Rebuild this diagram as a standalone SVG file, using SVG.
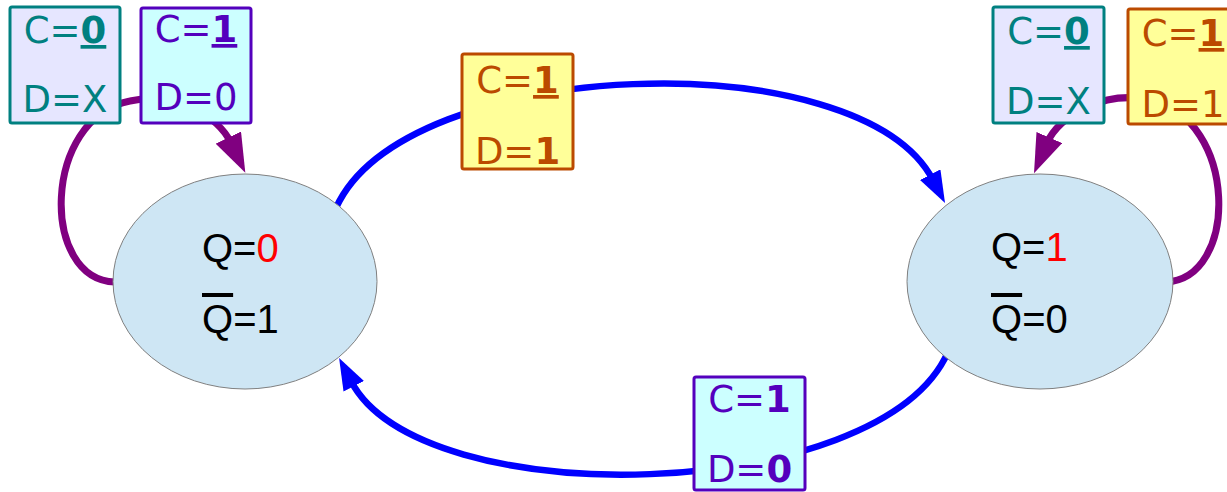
<svg xmlns="http://www.w3.org/2000/svg" width="1227" height="492" viewBox="0 0 1227 492">
<style>
.state{fill:#cee6f4;stroke:#808080;stroke-width:1}
.st{font-family:"Liberation Sans",Arial,sans-serif;font-size:40px;fill:#000}
.red{fill:#ff0000}
.ov{text-decoration:overline}
.lbl{font-family:"DejaVu Sans",sans-serif;font-size:37px;text-anchor:middle}
.b{font-weight:bold}
.u{text-decoration:underline}
.teal rect{fill:#e6e6ff;stroke:#008080;stroke-width:3}
.teal text{fill:#008080}
.purp rect{fill:#ccffff;stroke:#5400bd;stroke-width:3}
.purp text{fill:#5400bd}
.yel rect{fill:#ffff99;stroke:#bb4a00;stroke-width:3}
.yel text{fill:#bb4a00}
.blue{fill:none;stroke:#0000ff;stroke-width:6.5}
.pl{fill:none;stroke:#800080;stroke-width:7}
</style>
<defs>
<marker id="ab" markerUnits="userSpaceOnUse" markerWidth="32" markerHeight="23" viewBox="0 0 32 23" refX="6" refY="11.5" orient="auto"><path d="M0,0 L32,11.5 L0,23 z" fill="#0000ff"/></marker>
<marker id="ap" markerUnits="userSpaceOnUse" markerWidth="39" markerHeight="28" viewBox="0 0 39 28" refX="6" refY="14" orient="auto"><path d="M0,0 L39,14 L0,28 z" fill="#800080"/></marker>
</defs>
<g id="connectors">
<path class="blue" d="M336 208 C405 55 860 40 933 180" marker-end="url(#ab)"/>
<path class="blue" d="M948 352 C880 505 420 515 351 381" marker-end="url(#ab)"/>
<path class="pl" d="M115 282 C40 280 42 118 130 101 C175 91 218 116 231 143" marker-end="url(#ap)"/>
<path class="pl" d="M1165 282 C1240 280 1238 118 1150 100 C1105 90 1059 115 1047 143" marker-end="url(#ap)"/>
</g>
<g id="state0">
<ellipse class="state" cx="245" cy="281.5" rx="132" ry="107.5"/>
<text class="st" x="202" y="262">Q=<tspan class="red">0</tspan></text>
<text class="st" x="202" y="333"><tspan class="ov">Q</tspan>=1</text>
</g>
<g id="state1">
<ellipse class="state" cx="1040" cy="281.5" rx="133" ry="107.5"/>
<text class="st" x="991" y="261">Q=<tspan class="red">1</tspan></text>
<text class="st" x="991" y="333"><tspan class="ov">Q</tspan>=0</text>
</g>
<g id="lbl-hold0" class="teal">
<rect x="10" y="7" width="110" height="116" rx="2"/>
<text class="lbl" x="65" y="43">C=<tspan class="b u">0</tspan></text>
<text class="lbl" x="65" y="112">D=X</text>
</g>
<g id="lbl-reset0" class="purp">
<rect x="141" y="8" width="110" height="115" rx="2"/>
<text class="lbl" x="196" y="42">C=<tspan class="b u">1</tspan></text>
<text class="lbl" x="196" y="110">D=0</text>
</g>
<g id="lbl-set" class="yel">
<rect x="462" y="54" width="111" height="115" rx="2"/>
<text class="lbl" x="517.5" y="93">C=<tspan class="b u">1</tspan></text>
<text class="lbl" x="517.5" y="164">D=<tspan class="b">1</tspan></text>
</g>
<g id="lbl-reset" class="purp">
<rect x="694" y="377" width="111" height="113" rx="2"/>
<text class="lbl" x="749.5" y="412">C=<tspan class="b">1</tspan></text>
<text class="lbl" x="749.5" y="482">D=<tspan class="b">0</tspan></text>
</g>
<g id="lbl-hold1" class="teal">
<rect x="993" y="7" width="111" height="116" rx="2"/>
<text class="lbl" x="1048.5" y="44">C=<tspan class="b u">0</tspan></text>
<text class="lbl" x="1048.5" y="114">D=X</text>
</g>
<g id="lbl-set1" class="yel">
<rect x="1128" y="9" width="110" height="115" rx="2"/>
<text class="lbl" x="1183" y="46">C=<tspan class="b u">1</tspan></text>
<text class="lbl" x="1183" y="117">D=1</text>
</g>
</svg>
